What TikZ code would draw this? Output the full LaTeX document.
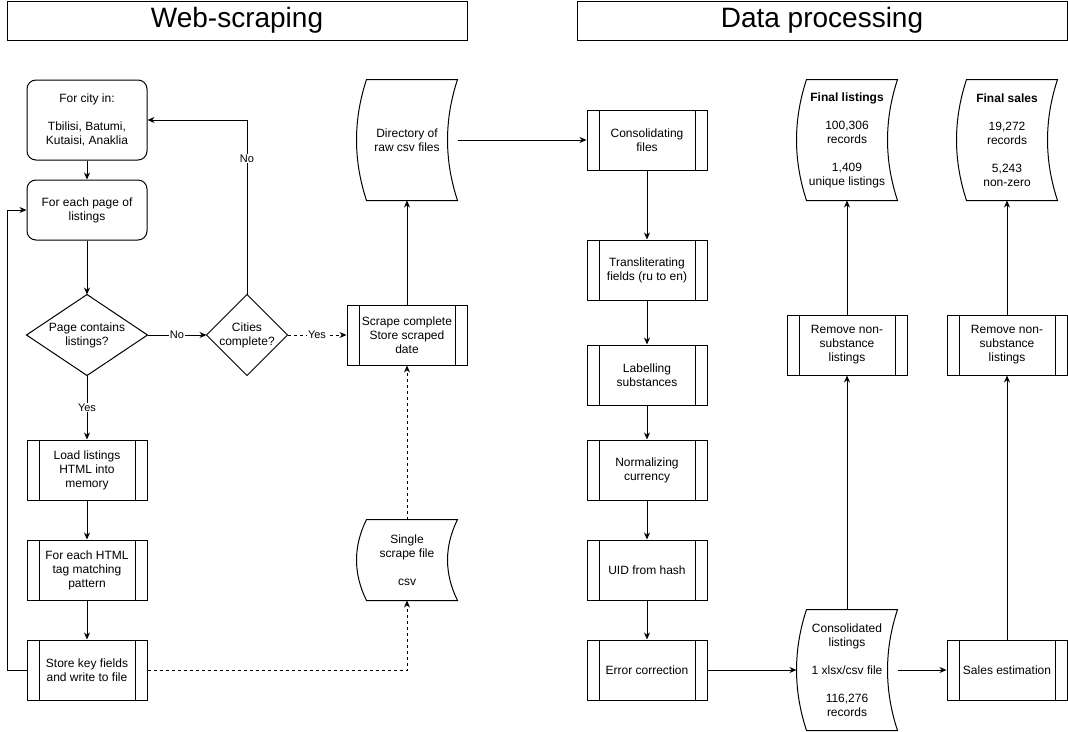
\documentclass[tikz,border=0pt]{standalone}
\usepackage{fontspec}
\setmainfont{Liberation Sans}
\usetikzlibrary{arrows.meta,calc}

% outline of a stored-data shape round a named node
\newcommand\tapeoutline[1]{%
  \draw ([xshift=10pt]#1.north west) -- (#1.north east)
    .. controls ($(#1.north east)!0.333!(#1.south east)+(-13.3,0)$) and ($(#1.north east)!0.667!(#1.south east)+(-13.3,0)$) .. (#1.south east)
    -- ([xshift=10pt]#1.south west)
    .. controls ($(#1.south west)!0.333!(#1.north west)+(-3.3,0)$) and ($(#1.south west)!0.667!(#1.north west)+(-3.3,0)$) .. ([xshift=10pt]#1.north west) -- cycle;}
% outline of a decision diamond round a named node
\newcommand\diamondoutline[1]{%
  \draw (#1.north) -- (#1.east) -- (#1.south) -- (#1.west) -- cycle;}

\begin{document}
\begin{tikzpicture}[x=1pt,y=-1pt,line width=1pt,
  arrow/.style={-{Stealth[length=7pt,width=6pt]}},
  txt/.style={font=\fontsize{12}{14}\selectfont, align=center, inner sep=0},
  title/.style={draw, font=\fontsize{28}{32}\selectfont, minimum height=39},
  startbox/.style={txt, draw, rounded corners=9pt, minimum width=120, minimum height=#1},
  proc/.style={txt, draw, minimum width=120, minimum height=60,
    path picture={\draw ([xshift=12pt]path picture bounding box.north west) -- ([xshift=12pt]path picture bounding box.south west)
      ([xshift=-12pt]path picture bounding box.north east) -- ([xshift=-12pt]path picture bounding box.south east);}},
  tape/.style={txt, minimum width=100, minimum height=#1},
  decision/.style={txt, minimum width=#1, minimum height=80},
  lbl/.style={font=\fontsize{11}{13}\selectfont, fill=white, inner sep=1pt}]
\useasboundingbox (0,0) rectangle (1068,731);

% TITLES
\node [title, minimum width=460] (webtitle) at (237,20.5) {Web-scraping};
\node [title, minimum width=490] (datatitle) at (822,20.5) {Data processing};

% WEB-SCRAPING
\node [startbox=80] (city) at (87,120) {For city in:\\[14pt]Tbilisi, Batumi,\\Kutaisi, Anaklia};
\node [startbox=60] (page) at (87,210) {For each page of\\listings};
\node [decision=120] (dpage) at (87,335) {Page contains\\listings?};
\node [decision=80] (dcity) at (247,335) {Cities\\complete?};
\node [proc] (load) at (87,470) {Load listings\\HTML into\\memory};
\node [proc] (tag) at (87,570) {For each HTML\\tag matching\\pattern};
\node [proc] (store) at (87,670) {Store key fields\\and write to file};
\node [proc] (scrape) at (407,335) {Scrape complete\\Store scraped\\date};
\node [tape=120] (rawdir) at (407,140) {Directory of\\raw csv files};
\node [tape=80] (single) at (407,560) {Single\\scrape file\\[14pt]csv};
\diamondoutline{dpage}
\diamondoutline{dcity}
\tapeoutline{rawdir}
\tapeoutline{single}

\draw [arrow] (city) -- (page);
\draw [arrow] (page) -- (dpage);
\draw [arrow] (dpage.east) -- node [lbl] {No} (dcity.west);
\draw [arrow] (dcity.north) |- node [lbl, pos=0.39] {No} (city.east);
\draw [arrow, dash pattern=on 3pt off 3pt] (dcity.east) -- node [lbl] {Yes} (scrape.west);
\draw [arrow] (dpage.south) -- node [lbl] {Yes} (load.north);
\draw [arrow] (load) -- (tag);
\draw [arrow] (tag) -- (store);
\draw [arrow] (store.west) -- ++(-19,0) |- (page.west);
\draw [arrow, dash pattern=on 3pt off 3pt] (store.east) -| (single.south);
\draw [arrow, dash pattern=on 3pt off 3pt] (single.north) -- (scrape.south);
\draw [arrow] (scrape.north) -- (rawdir.south);

% DATA PROCESSING
\node [proc] (consol) at (647,140) {Consolidating\\files};
\node [proc] (translit) at (647,270) {Transliterating\\fields (ru to en)};
\node [proc] (labelsub) at (647,375) {Labelling\\substances};
\node [proc] (normcur) at (647,470) {Normalizing\\currency};
\node [proc] (uid) at (647,570) {UID from hash};
\node [proc] (errfix) at (647,670) {Error correction};
\node [tape=120] (conlist) at (847,670) {Consolidated\\listings\\[14pt]1 xlsx/csv file\\[14pt]116,276\\records};
\node [proc] (sales) at (1007,670) {Sales estimation};
\node [proc] (remlist) at (847,345) {Remove non-\\substance\\listings};
\node [proc] (remsales) at (1007,345) {Remove non-\\substance\\listings};
\node [tape=120] (finlist) at (847,140) {\textbf{Final listings}\\[14pt]100,306\\records\\[14pt]1,409\\unique listings};
\node [tape=120] (finsales) at (1007,140) {\textbf{Final sales}\\[14pt]19,272\\records\\[14pt]5,243\\non-zero};
\tapeoutline{conlist}
\tapeoutline{finlist}
\tapeoutline{finsales}

\draw [arrow] (rawdir.east) -- (consol.west);
\draw [arrow] (consol) -- (translit);
\draw [arrow] (translit) -- (labelsub);
\draw [arrow] (labelsub) -- (normcur);
\draw [arrow] (normcur) -- (uid);
\draw [arrow] (uid) -- (errfix);
\draw [arrow] (errfix.east) -- (conlist.west);
\draw [arrow] (conlist.east) -- (sales.west);
\draw [arrow] (conlist.north) -- (remlist.south);
\draw [arrow] (remlist.north) -- (finlist.south);
\draw [arrow] (sales.north) -- (remsales.south);
\draw [arrow] (remsales.north) -- (finsales.south);
\end{tikzpicture}
\end{document}
